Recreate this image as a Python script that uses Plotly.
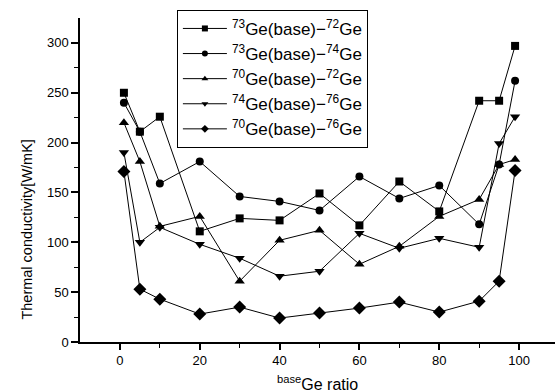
import plotly.graph_objects as go

# Composition of the base isotope (%)
ratio = [1, 5, 10, 20, 30, 40, 50, 60, 70, 80, 90, 95, 99]

# Thermal conductivity (W/mK) for each isotope pair
ge73_72 = [250, 211, 226, 111, 124, 122, 149, 117, 161, 131, 242, 242, 297]
ge73_74 = [240, 211, 159, 181, 146, 141, 132, 166, 144, 157, 118, 178, 262]
ge70_72 = [220, 181, 116, 126, 61, 102, 112, 78, 96, 126, 143, 178, 183]
ge74_76 = [190, 100, 115, 98, 84, 66, 71, 109, 94, 104, 95, 199, 226]
ge70_76 = [171, 53, 43, 28, 35, 24, 29, 34, 40, 30, 41, 61, 172]

names = [
    "<sup>73</sup>Ge(base)\u2212<sup>72</sup>Ge",
    "<sup>73</sup>Ge(base)\u2212<sup>74</sup>Ge",
    "<sup>70</sup>Ge(base)\u2212<sup>72</sup>Ge",
    "<sup>74</sup>Ge(base)\u2212<sup>76</sup>Ge",
    "<sup>70</sup>Ge(base)\u2212<sup>76</sup>Ge",
]
series = [ge73_72, ge73_74, ge70_72, ge74_76, ge70_76]
symbols = ["square", "circle", "triangle-up", "triangle-down", "diamond"]
sizes = [8, 8, 9, 9, 10]

fig = go.Figure()
for name, vals, sym, sz in zip(names, series, symbols, sizes):
    # data curve
    fig.add_trace(go.Scatter(
        x=ratio, y=vals, name=name, mode="lines+markers", showlegend=False,
        line=dict(color="black", width=1),
        marker=dict(symbol=sym, size=sz, color="black"),
    ))
    # legend key with a smaller marker
    fig.add_trace(go.Scatter(
        x=[None], y=[None], name=name, mode="lines+markers",
        line=dict(color="black", width=1),
        marker=dict(symbol=sym, size=6, color="black"),
    ))

font_family = "Liberation Sans, Arial, sans-serif"

fig.update_layout(
    width=555, height=392,
    margin=dict(l=80, r=0, t=18, b=50),
    paper_bgcolor="white", plot_bgcolor="white",
    font=dict(family=font_family, color="black", size=12),
    showlegend=True,
    legend=dict(
        x=0.204, y=1.025, xanchor="left", yanchor="top",
        bgcolor="white", bordercolor="black", borderwidth=1,
        font=dict(size=17, family=font_family, color="black"),
        tracegroupgap=0, itemwidth=44,
    ),
    xaxis=dict(
        range=[-10, 109], showgrid=False, zeroline=False,
        showline=True, linecolor="black", linewidth=1.5,
        tickmode="array", tickvals=[0, 20, 40, 60, 80, 100],
        ticks="outside", ticklen=6, tickwidth=1.5, tickcolor="black",
        minor=dict(tickvals=[10, 30, 50, 70, 90], ticks="outside",
                   ticklen=4, tickwidth=1, tickcolor="black"),
        tickfont=dict(size=13),
    ),
    yaxis=dict(
        range=[0, 325], showgrid=False, zeroline=False,
        showline=True, linecolor="black", linewidth=1.5,
        tickmode="array", tickvals=[0, 50, 100, 150, 200, 250, 300],
        ticks="outside", ticklen=7, tickwidth=1.5, tickcolor="black",
        minor=dict(tickvals=[25, 75, 125, 175, 225, 275], ticks="outside",
                   ticklen=4, tickwidth=1, tickcolor="black"),
        tickfont=dict(size=13),
    ),
    annotations=[
        dict(text="Thermal conductivity[W/mK]", textangle=-90,
             xref="paper", yref="paper", x=-0.1116, y=0.35,
             xanchor="center", yanchor="middle", showarrow=False,
             font=dict(size=14.5, family=font_family)),
        dict(text="<sup>base</sup>Ge ratio",
             xref="paper", yref="paper", x=0.5, y=-0.125,
             xanchor="center", yanchor="middle", showarrow=False,
             font=dict(size=16, family=font_family)),
    ],
)

fig.write_html("out.html")
